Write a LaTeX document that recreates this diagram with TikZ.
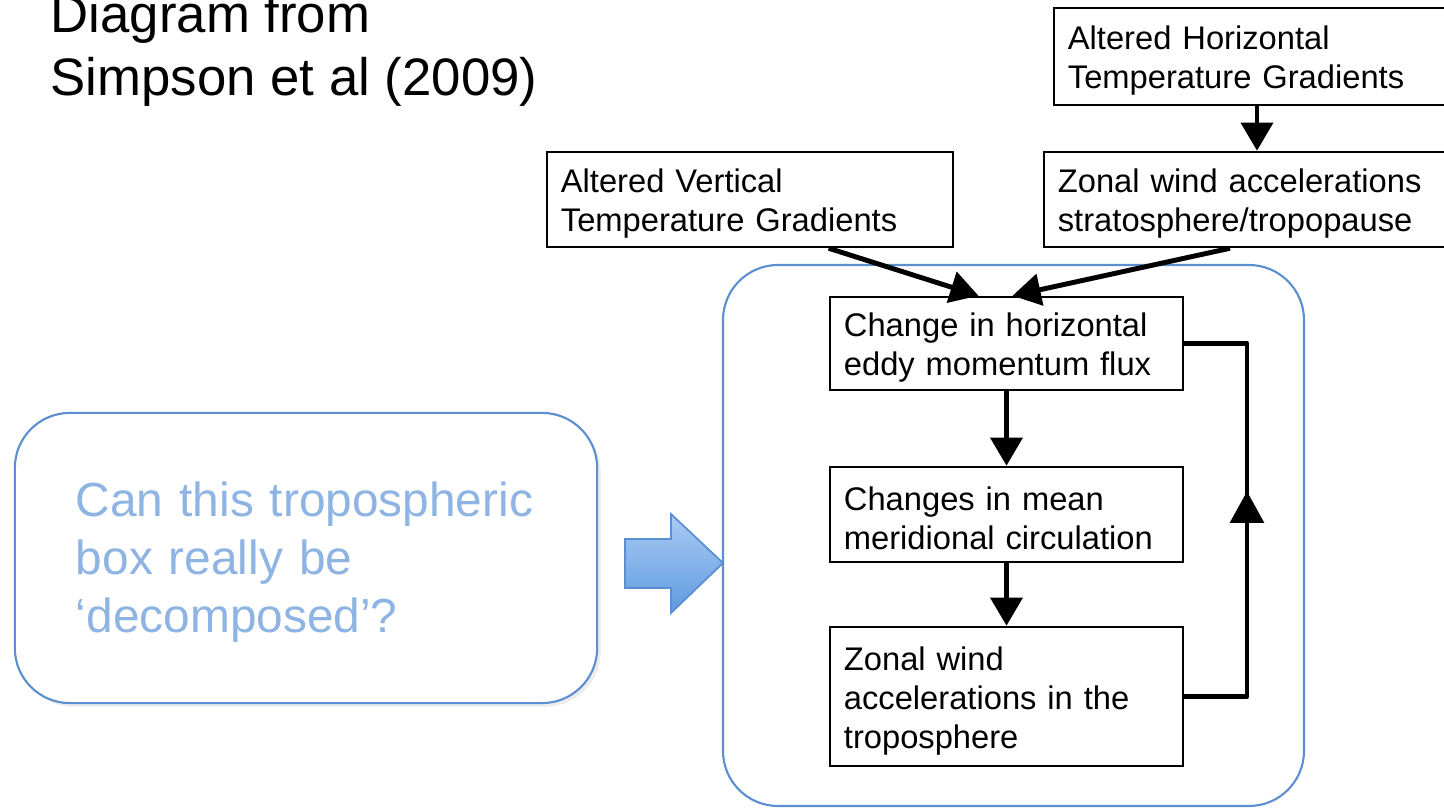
\documentclass[tikz,border=0pt]{standalone}
\usepackage{fontspec}
\setmainfont{Liberation Sans}
\usepackage{tikz}
\usetikzlibrary{arrows.meta,positioning,calc,decorations.markings,shadows}
\definecolor{ppblue}{RGB}{91,143,208}
\definecolor{pptext}{RGB}{142,180,227}
\definecolor{arrowtop}{RGB}{170,202,243}
\definecolor{arrowbot}{RGB}{94,155,224}

\begin{document}
\begin{tikzpicture}[x=0.01cm,y=-0.01cm,
    flowbox/.style={draw,line width=0.7pt,inner xsep=0.14cm,inner ysep=0pt,align=left,
      font=\fontsize{9.3}{11.1}\selectfont,execute at begin node={\rule{0pt}{9.1pt}}},
    conn/.style={line width=1.4pt,-{Triangle[length=8pt,width=9pt]}},
    roundbox/.style={draw=ppblue,line width=0.6pt,rounded corners=0.55cm}]
  \clip (0,0) rectangle (1444,809);
  \fill[white] (0,0) rectangle (1444,809);
  % title
  \node[anchor=base west,inner sep=0pt,align=left,font=\fontsize{15}{17.9}\selectfont] (title) at (50,95)
    {Diagram from\\Simpson et al (2009)};
  % question box and arrow
  \node[roundbox,fill=white,drop shadow={shadow xshift=1pt,shadow yshift=-1pt,opacity=0.15},
    minimum width=5.82cm,minimum height=2.9cm,text width=4.6cm,align=left,text=pptext,
    font=\fontsize{13.6}{16.4}\selectfont,execute at begin node={\rule{0pt}{12.2pt}}] (question) at (306,558)
    {Can this tropospheric\\box really be\\‘decomposed’?};
  \draw[draw=ppblue,line width=0.5pt,top color=arrowtop,bottom color=arrowbot]
    (625,539) -- (671,539) -- (671,514) -- (723,563) -- (671,613) -- (671,588) -- (625,588) -- cycle;
  % tropospheric box
  \draw[roundbox] (723,265) rectangle (1304,806);
  % flow chart
  \node[flowbox,text width=3.78cm,minimum height=0.97cm] (horiz) at (1257,56.5)
    {Altered Horizontal\\Temperature Gradients};
  \node[flowbox,text width=3.88cm,minimum height=0.95cm] (strat) at (1252,199.5)
    {Zonal wind accelerations\\stratosphere/tropopause};
  \node[flowbox,text width=3.78cm,minimum height=0.95cm] (vert) at (750,199.5)
    {Altered Vertical\\Temperature Gradients};
  \node[flowbox,text width=3.25cm,minimum height=0.93cm] (eddy) at (1006.5,343.5)
    {Change in horizontal\\eddy momentum flux};
  \node[flowbox,text width=3.25cm,minimum height=0.95cm] (merid) at (1006.5,514.5)
    {Changes in mean\\meridional circulation};
  \node[flowbox,text width=3.25cm,minimum height=1.39cm] (tropo) at (1006.5,696.5)
    {Zonal wind\\accelerations in the\\troposphere};
  \coordinate (loop) at (1247,0);
  \draw[conn] (horiz.south) -- (horiz.south |- strat.north);
  \draw[conn] (vert.south -| eddy.west) -- ($(eddy.north)+(-28,0)$);
  \draw[conn] ($(strat.south)+(-22,0)$) -- ($(eddy.north)+(6,0)$);
  \draw[conn] (eddy) -- (merid);
  \draw[conn] (merid) -- (tropo);
  \draw[line width=1.4pt,line join=round,
    decoration={markings,mark=at position 0.56 with {\arrow{Triangle[length=9pt,width=9.5pt]}}},postaction={decorate}]
    (tropo.east) -- (tropo.east -| loop) -- (eddy.east -| loop) -- (eddy.east);
\end{tikzpicture}
\end{document}
